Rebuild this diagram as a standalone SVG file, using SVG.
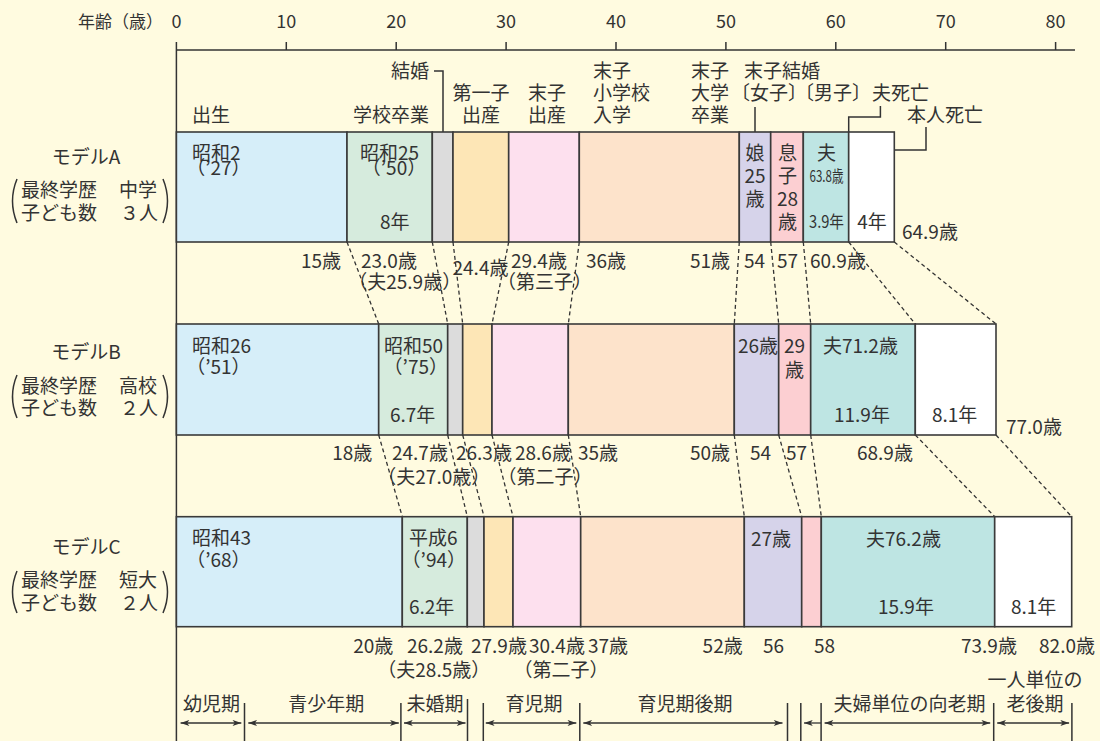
<svg xmlns="http://www.w3.org/2000/svg" width="1100" height="741" viewBox="0 0 1100 741">
<defs>
<marker id="ah" viewBox="0 0 10 8" refX="10" refY="4" markerWidth="10" markerHeight="7" markerUnits="userSpaceOnUse" orient="auto-start-reverse"><path d="M0,0.5 L10,4 L0,7.5 L2.5,4 Z" fill="#333"/></marker>
</defs>
<style>
text{font-family:"Noto Sans CJK JP","Noto Sans",sans-serif;font-size:19px;fill:#333}
.m{text-anchor:middle}
.e{text-anchor:end}
.ax{font-size:18px}
.seg{stroke:#3a3a3a;stroke-width:1.6}
.c1{fill:#d6eef9}.c2{fill:#d6ebdd}.c3{fill:#dcdcdc}.c4{fill:#fde6b6}.c5{fill:#fde0ee}
.c6{fill:#fde3cb}.c7{fill:#d6d3ea}.c8{fill:#fccfd2}.c9{fill:#bee5e3}.c10{fill:#ffffff}
.ln{stroke:#333;stroke-width:1.5;fill:none}
.d{stroke:#333;stroke-width:1.3;stroke-dasharray:4 3;fill:none}
.ar{stroke:#333;stroke-width:1.3;fill:none;marker-start:url(#ah);marker-end:url(#ah)}
</style>
<rect width="1100" height="741" fill="#fffbe0"/>

<g id="axis">
<line class="ln" x1="176.4" y1="50" x2="1075" y2="50"/>
<line class="ln" x1="176.4" y1="42" x2="176.4" y2="741"/>
<path class="ln" d="M286.3,42V50M396.2,42V50M506.1,42V50M616,42V50M725.9,42V50M835.8,42V50M945.7,42V50M1055.6,42V50"/>
<text class="ax e" x="163" y="28" style="font-size:17px">年齢（歳）</text>
<text class="ax m" x="176.4" y="28">0</text>
<text class="ax m" x="286.3" y="28">10</text>
<text class="ax m" x="396.2" y="28">20</text>
<text class="ax m" x="506.1" y="28">30</text>
<text class="ax m" x="616" y="28">40</text>
<text class="ax m" x="725.9" y="28">50</text>
<text class="ax m" x="835.8" y="28">60</text>
<text class="ax m" x="945.7" y="28">70</text>
<text class="ax m" x="1055.6" y="28">80</text>
</g>

<g id="events">
<text x="192" y="122">出生</text>
<text class="e" x="429" y="122">学校卒業</text>
<text class="e" x="429" y="78">結婚</text>
<text class="m" x="481" y="100">第一子</text>
<text class="m" x="481" y="122">出産</text>
<text class="m" x="547" y="100">末子</text>
<text class="m" x="547" y="122">出産</text>
<text x="593" y="78">末子</text>
<text x="593" y="100">小学校</text>
<text x="593" y="122">入学</text>
<text x="691" y="78">末子</text>
<text x="691" y="100">大学</text>
<text x="691" y="122">卒業</text>
<text x="744" y="78">末子結婚</text>
<text class="m" x="769" y="100">〔女子〕</text>
<text class="m" x="833" y="100">〔男子〕</text>
<text x="872" y="100">夫死亡</text>
<text x="907" y="122">本人死亡</text>
</g>

<g id="connectors">
<polyline class="ln" points="434,71 443,71 443,138"/>
<polyline class="ln" points="755,107 755,138"/>
<polyline class="ln" points="880.4,106 880.4,117 848.7,117 848.7,132"/>
<polyline class="ln" points="926,127 926,150 894.3,150"/>
<path class="d" d="M347,242L378.7,324M432.3,242L447.7,324M453,242L462.7,324M508.7,242L492,324M579.3,242L568.3,324M739.3,242L734.3,324M770.7,242L778.7,324M803.3,242L810.7,324M848.7,242L915.3,324M894.3,242L996,324"/>
<path class="d" d="M378.7,435L402.3,516.7M447.7,435L467.3,516.7M462.7,435L484,516.7M492,435L513,516.7M568.3,435L580.7,516.7M734.3,435L744.3,516.7M778.7,435L801.7,516.7M810.7,435L821.3,516.7M915.3,435L994.7,516.7M996,435L1071.7,516.7"/>
</g>

<g id="modelA">
<text class="m" x="86" y="164">モデルA</text>
<path class="ln" d="M17,179Q8,201 17,223M163,179Q172,201 163,223"/>
<text x="21" y="197">最終学歴</text><text class="e" x="157" y="197">中学</text>
<text x="21" y="220">子ども数</text><text class="e" x="158" y="220">３人</text>
<rect class="seg c1" x="176.4" y="132" width="170.6" height="110"/>
<rect class="seg c2" x="347" y="132" width="85.3" height="110"/>
<rect class="seg c3" x="432.3" y="132" width="20.7" height="110"/>
<rect class="seg c4" x="453" y="132" width="55.7" height="110"/>
<rect class="seg c5" x="508.7" y="132" width="70.6" height="110"/>
<rect class="seg c6" x="579.3" y="132" width="160" height="110"/>
<rect class="seg c7" x="739.3" y="132" width="31.4" height="110"/>
<rect class="seg c8" x="770.7" y="132" width="32.6" height="110"/>
<rect class="seg c9" x="803.3" y="132" width="45.4" height="110"/>
<rect class="seg c10" x="848.7" y="132" width="45.6" height="110"/>
<text x="192" y="160">昭和2</text>
<text class="m" x="218.4" y="175">（’27）</text>
<text x="360" y="160">昭和25</text>
<text class="m" x="394" y="175">（’50）</text>
<text x="380" y="229">8年</text>
<text class="m" x="755" y="160">娘</text>
<text class="m" x="755" y="183">25</text>
<text class="m" x="755" y="206">歳</text>
<text class="m" x="787.5" y="160">息</text>
<text class="m" x="787.5" y="183">子</text>
<text class="m" x="787.5" y="206">28</text>
<text class="m" x="787.5" y="229">歳</text>
<text class="m" x="826.5" y="160">夫</text>
<text class="m" x="826.5" y="182" style="font-size:16px" textLength="34" lengthAdjust="spacingAndGlyphs">63.8歳</text>
<text class="m" x="826.5" y="228" style="font-size:17px" textLength="35" lengthAdjust="spacingAndGlyphs">3.9年</text>
<text class="m" x="872" y="229">4年</text>
<text x="902" y="239">64.9歳</text>
<text class="e" x="341" y="268">15歳</text>
<text x="361" y="268">23.0歳</text>
<text class="m" x="404.7" y="289">（夫25.9歳）</text>
<text class="m" x="480.5" y="275">24.4歳</text>
<text x="511" y="268">29.4歳</text>
<text class="m" x="544.5" y="289">（第三子）</text>
<text x="586" y="268">36歳</text>
<text class="e" x="730" y="268">51歳</text>
<text x="744" y="268">54</text>
<text x="777" y="268">57</text>
<text x="810" y="268">60.9歳</text>
</g>

<g id="modelB">
<text class="m" x="86" y="359">モデルB</text>
<path class="ln" d="M17,375Q8,396.5 17,418M163,375Q172,396.5 163,418"/>
<text x="21" y="393">最終学歴</text><text class="e" x="157" y="393">高校</text>
<text x="21" y="415">子ども数</text><text class="e" x="158" y="415">２人</text>
<rect class="seg c1" x="176.4" y="324" width="202.3" height="111"/>
<rect class="seg c2" x="378.7" y="324" width="69" height="111"/>
<rect class="seg c3" x="447.7" y="324" width="15" height="111"/>
<rect class="seg c4" x="462.7" y="324" width="29.3" height="111"/>
<rect class="seg c5" x="492" y="324" width="76.3" height="111"/>
<rect class="seg c6" x="568.3" y="324" width="166" height="111"/>
<rect class="seg c7" x="734.3" y="324" width="44.4" height="111"/>
<rect class="seg c8" x="778.7" y="324" width="32" height="111"/>
<rect class="seg c9" x="810.7" y="324" width="104.6" height="111"/>
<rect class="seg c10" x="915.3" y="324" width="80.7" height="111"/>
<text x="192" y="353">昭和26</text>
<text class="m" x="218.4" y="374">（’51）</text>
<text x="384" y="353">昭和50</text>
<text class="m" x="415.8" y="374">（’75）</text>
<text x="390" y="422">6.7年</text>
<text x="738" y="353">26歳</text>
<text class="m" x="794.5" y="353">29</text>
<text class="m" x="794.5" y="377">歳</text>
<text x="823" y="353">夫71.2歳</text>
<text x="834" y="422">11.9年</text>
<text x="932" y="422">8.1年</text>
<text x="1006" y="434">77.0歳</text>
<text class="e" x="372.3" y="460">18歳</text>
<text x="392" y="460">24.7歳</text>
<text class="m" x="433.8" y="484">（夫27.0歳）</text>
<text x="456" y="460">26.3歳</text>
<text x="515" y="460">28.6歳</text>
<text class="m" x="545" y="484">（第二子）</text>
<text x="578" y="460">35歳</text>
<text class="e" x="730" y="460">50歳</text>
<text x="750" y="460">54</text>
<text x="786" y="460">57</text>
<text x="857" y="460">68.9歳</text>
</g>

<g id="modelC">
<text class="m" x="86" y="554">モデルC</text>
<path class="ln" d="M17,571Q8,592 17,613M163,571Q172,592 163,613"/>
<text x="21" y="587">最終学歴</text><text class="e" x="157" y="587">短大</text>
<text x="21" y="610">子ども数</text><text class="e" x="158" y="610">２人</text>
<rect class="seg c1" x="176.4" y="516.7" width="225.9" height="110"/>
<rect class="seg c2" x="402.3" y="516.7" width="65" height="110"/>
<rect class="seg c3" x="467.3" y="516.7" width="16.7" height="110"/>
<rect class="seg c4" x="484" y="516.7" width="29" height="110"/>
<rect class="seg c5" x="513" y="516.7" width="67.7" height="110"/>
<rect class="seg c6" x="580.7" y="516.7" width="163.6" height="110"/>
<rect class="seg c7" x="744.3" y="516.7" width="57.4" height="110"/>
<rect class="seg c8" x="801.7" y="516.7" width="19.6" height="110"/>
<rect class="seg c9" x="821.3" y="516.7" width="173.4" height="110"/>
<rect class="seg c10" x="994.7" y="516.7" width="77" height="110"/>
<text x="192" y="545">昭和43</text>
<text class="m" x="218.4" y="567">（’68）</text>
<text x="409" y="545">平成6</text>
<text class="m" x="433.8" y="567">（’94）</text>
<text x="409" y="614">6.2年</text>
<text x="751" y="546">27歳</text>
<text x="866" y="546">夫76.2歳</text>
<text x="878" y="614">15.9年</text>
<text x="1011" y="614">8.1年</text>
<text class="e" x="393.3" y="653">20歳</text>
<text x="407" y="653">26.2歳</text>
<text class="m" x="433.8" y="677">（夫28.5歳）</text>
<text x="471" y="653">27.9歳</text>
<text x="529" y="653">30.4歳</text>
<text class="m" x="561" y="677">（第二子）</text>
<text x="588" y="653">37歳</text>
<text class="e" x="742.7" y="653">52歳</text>
<text x="763" y="653">56</text>
<text x="814" y="653">58</text>
<text x="961" y="653">73.9歳</text>
<text class="e" x="1095" y="653">82.0歳</text>
</g>

<g id="stages">
<path class="ln" d="M244.5,703V741M400.9,703V741M467.5,699V741M483.3,703V741M579.8,703V741M787.5,703V741M800.8,703V741M821.1,703V741M993.7,703V741M1071.9,703V741"/>
<line class="ar" x1="180.6" y1="723" x2="241.3" y2="723"/>
<line class="ar" x1="248.3" y1="723" x2="398.8" y2="723"/>
<line class="ar" x1="404" y1="723" x2="465.5" y2="723"/>
<line class="ar" x1="485.8" y1="723" x2="576.3" y2="723"/>
<line class="ar" x1="583.3" y1="723" x2="782.5" y2="723"/>
<line x1="804" y1="723" x2="821" y2="723" stroke="#333" stroke-width="1.3" marker-start="url(#ah)"/>
<line class="ar" x1="824.6" y1="723" x2="990.2" y2="723"/>
<line class="ar" x1="997.2" y1="723" x2="1069.1" y2="723"/>
<text class="m" x="211.4" y="711">幼児期</text>
<text class="m" x="326.2" y="711">青少年期</text>
<text class="m" x="435" y="711">未婚期</text>
<text class="m" x="534" y="711">育児期</text>
<text class="m" x="685" y="711">育児期後期</text>
<text class="m" x="909.5" y="711">夫婦単位の向老期</text>
<text class="m" x="1035" y="687">一人単位の</text>
<text class="m" x="1035" y="711">老後期</text>
</g>
</svg>
